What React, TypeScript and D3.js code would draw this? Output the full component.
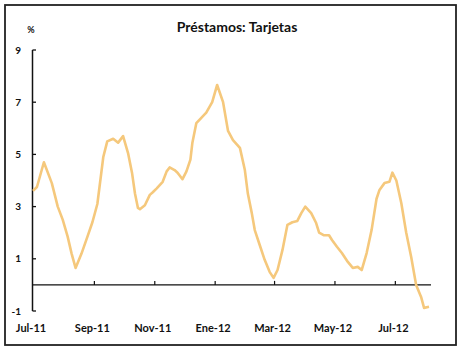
import * as d3 from 'd3'

const TITLE = 'Préstamos: Tarjetas'
const UNIT = '%'

// dates of the traced points and the value (%) at each
const dates = [
  '2011-07-01', '2011-07-05', '2011-07-12', '2011-07-20', '2011-07-26', '2011-07-31',
  '2011-08-05', '2011-08-09', '2011-08-13', '2011-08-19', '2011-08-25', '2011-08-30',
  '2011-09-04', '2011-09-07', '2011-09-10', '2011-09-14', '2011-09-20', '2011-09-25',
  '2011-09-30', '2011-10-05', '2011-10-09', '2011-10-12', '2011-10-15', '2011-10-17',
  '2011-10-22', '2011-10-27', '2011-10-30', '2011-11-03', '2011-11-09', '2011-11-13',
  '2011-11-16', '2011-11-21', '2011-11-24', '2011-11-29', '2011-12-03', '2011-12-07',
  '2011-12-09', '2011-12-13', '2011-12-18', '2011-12-23', '2011-12-26', '2011-12-29',
  '2012-01-03', '2012-01-09', '2012-01-14', '2012-01-19', '2012-01-26', '2012-01-31',
  '2012-02-03', '2012-02-07', '2012-02-10', '2012-02-15', '2012-02-20', '2012-02-25',
  '2012-02-29', '2012-03-04', '2012-03-09', '2012-03-14', '2012-03-19', '2012-03-24',
  '2012-03-28', '2012-04-01', '2012-04-07', '2012-04-12', '2012-04-15', '2012-04-20',
  '2012-04-25', '2012-04-28', '2012-05-03', '2012-05-08', '2012-05-14', '2012-05-19',
  '2012-05-24', '2012-05-28', '2012-06-02', '2012-06-07', '2012-06-12', '2012-06-15',
  '2012-06-20', '2012-06-25', '2012-06-28', '2012-07-02', '2012-07-07', '2012-07-12',
  '2012-07-17', '2012-07-22', '2012-07-27', '2012-07-30', '2012-08-04',
]
const values = [
  3.6, 3.75, 4.7, 3.9, 3.0, 2.5,
  1.85, 1.2, 0.65, 1.2, 1.85, 2.4,
  3.1, 4.0, 4.9, 5.5, 5.6, 5.45,
  5.7, 5.05, 4.3, 3.5, 2.95, 2.9,
  3.05, 3.45, 3.55, 3.7, 3.95, 4.35,
  4.5, 4.4, 4.3, 4.05, 4.35, 4.8,
  5.45, 6.2, 6.4, 6.6, 6.8, 7.0,
  7.66, 7.0, 5.9, 5.55, 5.25, 4.4,
  3.5, 2.75, 2.1, 1.53, 0.96, 0.5,
  0.27, 0.57, 1.34, 2.3, 2.4, 2.45,
  2.75, 3.0, 2.75, 2.37, 2.0, 1.9,
  1.9, 1.72, 1.46, 1.22, 0.88, 0.65,
  0.69, 0.57, 1.22, 2.1, 3.3, 3.64,
  3.9, 3.95, 4.3, 4.0, 3.14, 2.0,
  1.07, 0.0, -0.46, -0.88, -0.84,
]

const yTicks = [9, 7, 5, 3, 1, -1]
const xTickDates = ['2011-07-01', '2011-09-01', '2011-11-01', '2012-01-01', '2012-03-01', '2012-05-01', '2012-07-01']
const xTickLabels = ['Jul-11', 'Sep-11', 'Nov-11', 'Ene-12', 'Mar-12', 'May-12', 'Jul-12']

const W = 461
const H = 350
const LINE = '#f5c87c'
const FONT = 'Lato, "Open Sans", sans-serif'

export default function App() {
  const parse = d3.timeParse('%Y-%m-%d')
  const pts = dates.map((d, i) => ({ t: parse(d) as Date, v: values[i] }))

  const x = d3.scaleTime()
    .domain([parse('2011-07-01') as Date, parse('2012-08-05') as Date])
    .range([33, 430])
  const y = d3.scaleLinear().domain([-1, 9]).range([311, 50])

  const line = d3.line<{ t: Date; v: number }>()
    .x(d => x(d.t))
    .y(d => y(d.v))

  const y0 = y(0)
  const xEnd = x(parse('2012-08-06') as Date)

  return (
    <svg width={W} height={H} style={{ position: 'absolute', left: 0, top: 0, background: '#fff' }}>
      <rect x={5} y={5} width={451} height={340} fill="#fff" stroke="#222" strokeWidth={1.8} />

      <text x={237} y={32} textAnchor="middle" fontFamily={FONT} fontWeight="bold" fontSize={14} fill="#111">
        {TITLE}
      </text>
      <text x={31} y={33} textAnchor="middle" fontFamily={FONT} fontWeight="bold" fontSize={9} fill="#111">
        {UNIT}
      </text>

      {/* y axis */}
      <line x1={32.5} x2={32.5} y1={y(9)} y2={y(-1)} stroke="#111" strokeWidth={1.5} />
      {yTicks.map(t => (
        <g key={t}>
          <line x1={32.5} x2={36} y1={y(t)} y2={y(t)} stroke="#111" strokeWidth={1.3} />
          <text x={21} y={y(t) + 3.5} textAnchor="end" fontFamily={FONT} fontWeight="bold" fontSize={10} fill="#111">
            {t}
          </text>
        </g>
      ))}

      {/* zero line with month ticks */}
      <line x1={32.5} x2={xEnd} y1={y0} y2={y0} stroke="#111" strokeWidth={1.3} />
      {xTickDates.map((d, i) => {
        const px = x(parse(d) as Date)
        return (
          <g key={d}>
            {i > 0 && <line x1={px} x2={px} y1={y0} y2={y0 - 4} stroke="#111" strokeWidth={1.2} />}
            <text x={px - 2} y={332} textAnchor="middle" fontFamily={FONT} fontWeight="bold" fontSize={11} fill="#111">
              {xTickLabels[i]}
            </text>
          </g>
        )
      })}

      <path d={line(pts) ?? ''} fill="none" stroke={LINE} strokeWidth={2.6} strokeLinejoin="round" />
    </svg>
  )
}
